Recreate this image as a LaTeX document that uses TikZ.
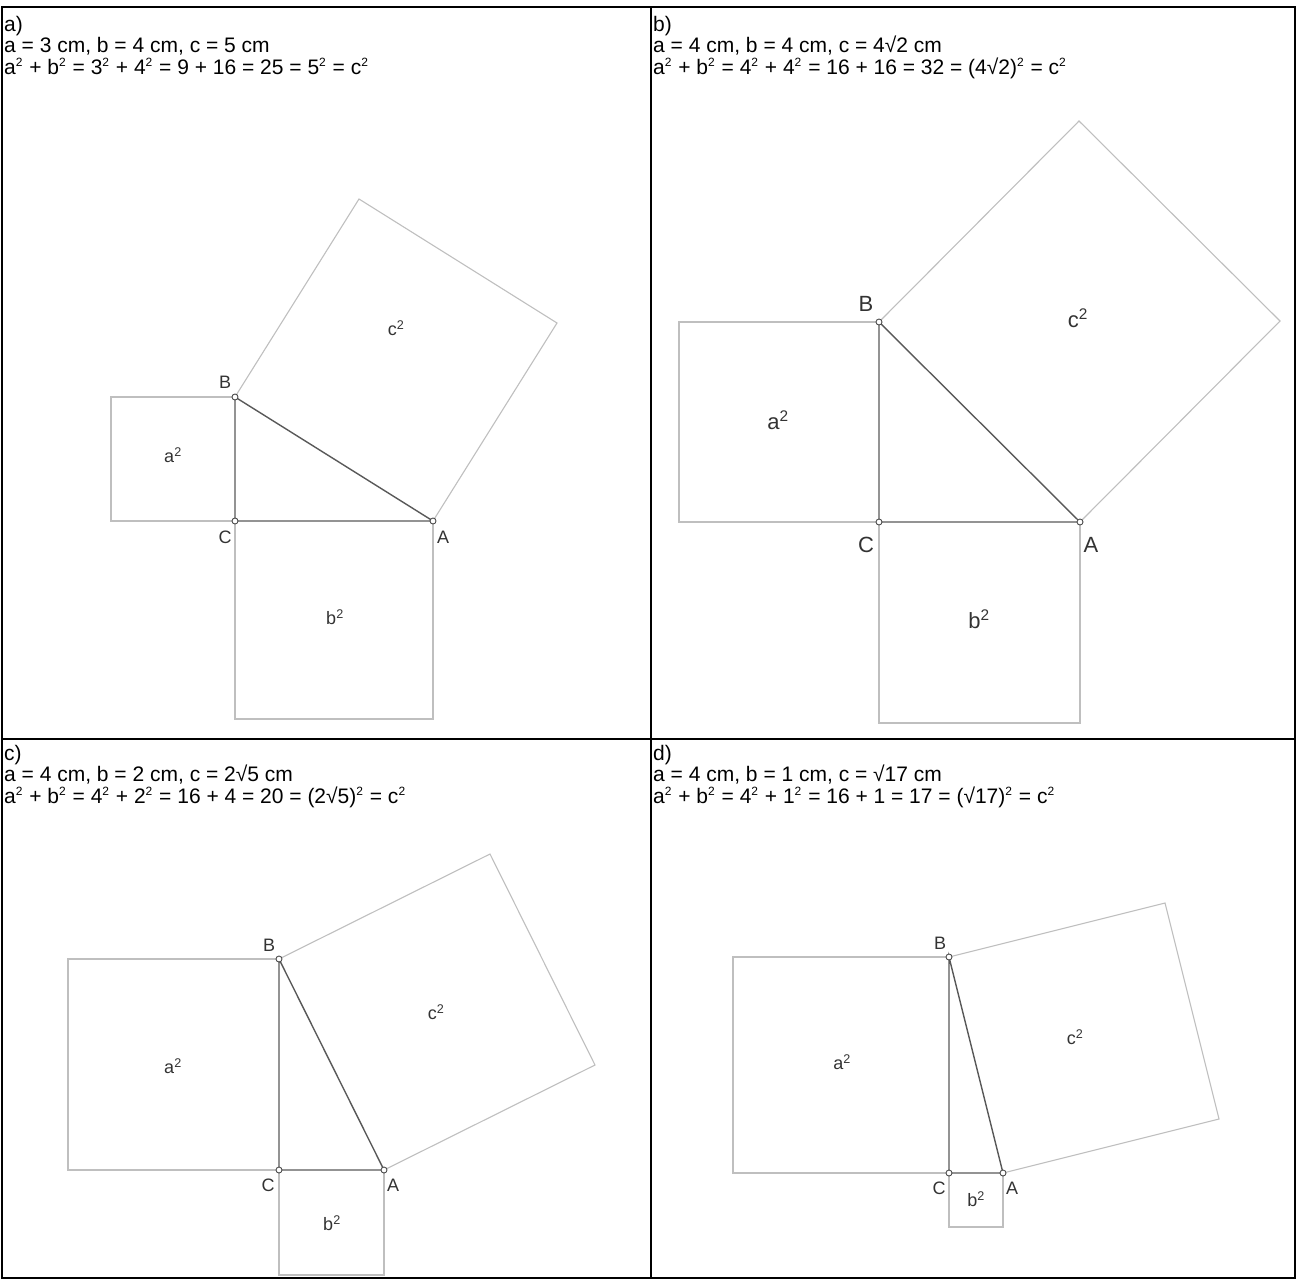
\documentclass[tikz,border=0pt]{standalone}
\usepackage{fontspec}
\setmainfont{Liberation Sans}
\usetikzlibrary{calc}
\newcommand\sqtwo{\raisebox{8pt}{\fontsize{12}{12}\selectfont 2}\hspace{1pt}}

\begin{document}
\begin{tikzpicture}[x=1pt,y=-1pt,
  frame/.style={line width=1.5pt},
  hdr/.style={anchor=base west,align=left,inner sep=0pt,font=\fontsize{21}{21.5}\selectfont},
  tri/.style={draw=black!65,line width=1.4pt},
  sq/.style={draw=black!25,line width=1.1pt},
  pt/.style={circle,draw=black!70,fill=white,line width=0.9pt,inner sep=0pt,minimum size=6pt},
  lbl/.style={text=black!80,inner sep=0pt,font=\fontsize{18}{18}\selectfont},
  lblb/.style={text=black!80,inner sep=0pt,font=\fontsize{22}{22}\selectfont}]
\useasboundingbox (0,0) rectangle (1297,1280);
% table
\draw[frame] (2,7) rectangle (1295,1278);
\draw[frame] (651,7) -- (651,1278); \draw[frame] (2,739) -- (1295,739);
% base anchor = last line
\node[hdr] (ha) at (4,74) {a)\\a = 3 cm, b = 4 cm, c = 5 cm\\a\sqtwo{} + b\sqtwo{} = 3\sqtwo{} + 4\sqtwo{} = 9 + 16 = 25 = 5\sqtwo{} = c\sqtwo};
\node[hdr] (hb) at (653,74) {b)\\a = 4 cm, b = 4 cm, c = 4√2 cm\\a\sqtwo{} + b\sqtwo{} = 4\sqtwo{} + 4\sqtwo{} = 16 + 16 = 32 = (4√2)\sqtwo{} = c\sqtwo};
\node[hdr] (hc) at (4,803) {c)\\a = 4 cm, b = 2 cm, c = 2√5 cm\\a\sqtwo{} + b\sqtwo{} = 4\sqtwo{} + 2\sqtwo{} = 16 + 4 = 20 = (2√5)\sqtwo{} = c\sqtwo};
\node[hdr] (hd) at (653,803) {d)\\a = 4 cm, b = 1 cm, c = √17 cm\\a\sqtwo{} + b\sqtwo{} = 4\sqtwo{} + 1\sqtwo{} = 16 + 1 = 17 = (√17)\sqtwo{} = c\sqtwo};
% a)
\coordinate (Ca) at (235,521); \coordinate (Ba) at (235,397); \coordinate (Aa) at (433,521);
\draw[sq] (Ca) -- ++(-124,0) -- ++(0,-124) -- (Ba);
\draw[sq] (Ca) -- ++(0,198) -- ++(198,0) -- (Aa);
\draw[sq] (Ba) -- ++(124,-198) -- ($(Aa)+(124,-198)$) -- (Aa);
\draw[tri] (Ba) -- (Ca) -- (Aa) -- cycle;
\foreach \p in {Aa,Ba,Ca} \node[pt] at (\p) {};
\node[lbl] at ($(Ba)+(-10,-15)$) {B}; \node[lbl] at ($(Ca)+(-10,16)$) {C}; \node[lbl] at ($(Aa)+(10,16)$) {A};
\node[lbl] at (173,455) {a\textsuperscript{2}}; \node[lbl] at (335,617) {b\textsuperscript{2}}; \node[lbl] at (396,328) {c\textsuperscript{2}};
% b)
\coordinate (Cb) at (879,522); \coordinate (Bb) at (879,322); \coordinate (Ab) at (1080,522);
\draw[sq] (Cb) -- ++(-200,0) -- ++(0,-200) -- (Bb);
\draw[sq] (Cb) -- ++(0,201) -- ++(201,0) -- (Ab);
\draw[sq] (Bb) -- ++(200,-201) -- ($(Ab)+(200,-201)$) -- (Ab);
\draw[tri] (Bb) -- (Cb) -- (Ab) -- cycle;
\foreach \p in {Ab,Bb,Cb} \node[pt] at (\p) {};
\node[lblb] at ($(Bb)+(-13,-18)$) {B}; \node[lblb] at ($(Cb)+(-13,23)$) {C}; \node[lblb] at ($(Ab)+(11,23)$) {A};
\node[lblb] at (778,420) {a\textsuperscript{2}}; \node[lblb] at (979,619) {b\textsuperscript{2}}; \node[lblb] at (1078,318) {c\textsuperscript{2}};
% c)
\coordinate (Cc) at (279,1170); \coordinate (Bc) at (279,959); \coordinate (Ac) at (384,1170);
\draw[sq] (Cc) -- ++(-211,0) -- ++(0,-211) -- (Bc);
\draw[sq] (Cc) -- ++(0,105) -- ++(105,0) -- (Ac);
\draw[sq] (Bc) -- ++(211,-105) -- ($(Ac)+(211,-105)$) -- (Ac);
\draw[tri] (Bc) -- (Cc) -- (Ac) -- cycle;
\foreach \p in {Ac,Bc,Cc} \node[pt] at (\p) {};
\node[lbl] at ($(Bc)+(-10,-14)$) {B}; \node[lbl] at ($(Cc)+(-11,15)$) {C}; \node[lbl] at ($(Ac)+(9,15)$) {A};
\node[lbl] at (173,1066) {a\textsuperscript{2}}; \node[lbl] at (332,1223) {b\textsuperscript{2}}; \node[lbl] at (436,1012) {c\textsuperscript{2}};
% d)
\coordinate (Cd) at (949,1173); \coordinate (Bd) at (949,957); \coordinate (Ad) at (1003,1173);
\draw[sq] (Cd) -- ++(-216,0) -- ++(0,-216) -- (Bd);
\draw[sq] (Cd) -- ++(0,54) -- ++(54,0) -- (Ad);
\draw[sq] (Bd) -- ++(216,-54) -- ($(Ad)+(216,-54)$) -- (Ad);
\draw[tri] (Bd) -- (Cd) -- (Ad) -- cycle;
\foreach \p in {Ad,Bd,Cd} \node[pt] at (\p) {};
\node[lbl] at ($(Bd)+(-9,-14)$) {B}; \node[lbl] at ($(Cd)+(-10,15)$) {C}; \node[lbl] at ($(Ad)+(9,15)$) {A};
\node[lbl] at (842,1062) {a\textsuperscript{2}}; \node[lbl] at (976,1199) {b\textsuperscript{2}}; \node[lbl] at (1075,1037) {c\textsuperscript{2}};
\end{tikzpicture}
\end{document}
